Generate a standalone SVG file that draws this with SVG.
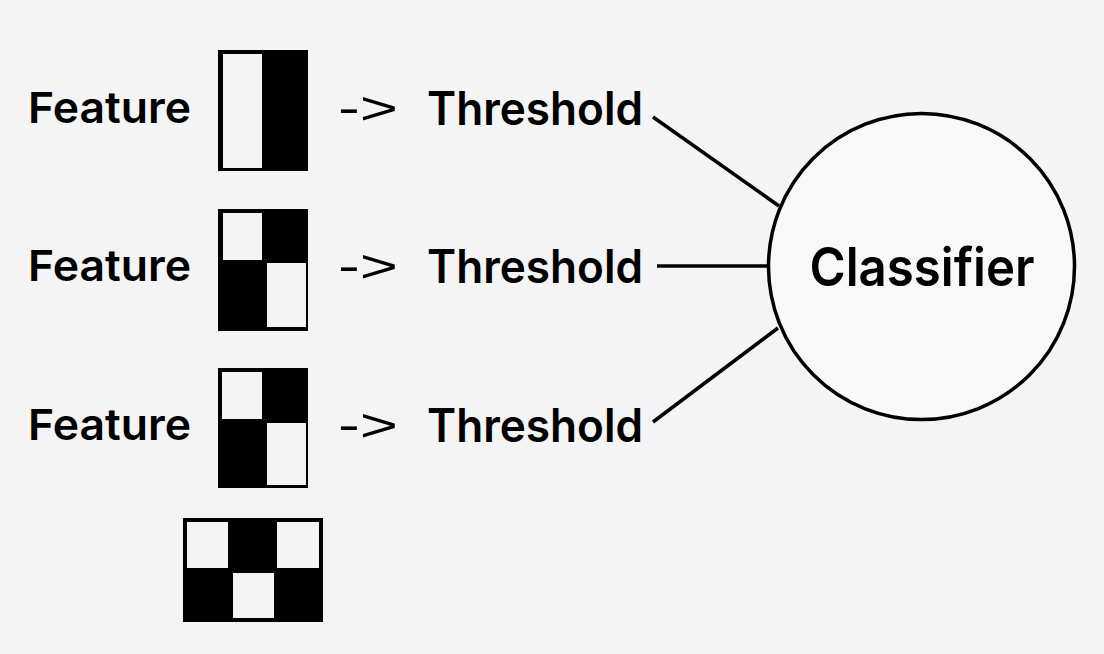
<svg xmlns="http://www.w3.org/2000/svg" width="1104" height="654" viewBox="0 0 1104 654">
<style>
.bg{fill:#f4f4f4}
.blk{fill:#000}
.cell{fill:#f4f4f4}
.lbl{font-family:Inter,"Liberation Sans",Arial,sans-serif;font-weight:560;font-size:43px;fill:#000}
.thr{font-family:Inter,"Liberation Sans",Arial,sans-serif;font-weight:560;font-size:46px;fill:#000}
.arr{font-family:"Liberation Sans",Arial,sans-serif;font-size:46px;fill:#000;font-feature-settings:"calt" 0,"liga" 0}
.cls{font-family:Inter,"Liberation Sans",Arial,sans-serif;font-weight:560;font-size:53px;fill:#000}
.conn{stroke:#000;stroke-width:3.5;fill:none;stroke-linecap:butt}
</style>
<rect class="bg" x="0" y="0" width="1104" height="654"/>
<g id="feature1">
<text class="lbl" x="28" y="123" textLength="163" lengthAdjust="spacingAndGlyphs">Feature</text>
<rect class="blk" x="218" y="50" width="90" height="121"/>
<rect class="cell" x="223" y="54" width="39" height="114"/>
</g>
<g id="feature2">
<text class="lbl" x="28" y="281" textLength="163" lengthAdjust="spacingAndGlyphs">Feature</text>
<rect class="blk" x="218" y="209" width="90" height="122"/>
<rect class="cell" x="223" y="213" width="39" height="47"/>
<rect class="cell" x="267" y="263" width="39" height="64"/>
</g>
<g id="feature3">
<text class="lbl" x="28" y="440" textLength="163" lengthAdjust="spacingAndGlyphs">Feature</text>
<rect class="blk" x="218" y="368" width="90" height="120"/>
<rect class="cell" x="222" y="372" width="40" height="47"/>
<rect class="cell" x="267" y="423" width="39" height="62"/>
</g>
<g id="feature4">
<rect class="blk" x="183" y="518" width="140" height="104"/>
<rect class="cell" x="187" y="522" width="41" height="46"/>
<rect class="cell" x="277" y="522" width="42" height="46"/>
<rect class="cell" x="233" y="573" width="41" height="45"/>
</g>
<g id="threshold1">
<text class="arr" x="338" y="124" textLength="60" lengthAdjust="spacingAndGlyphs">-&gt;</text>
<text class="thr" x="427" y="125" textLength="216" lengthAdjust="spacingAndGlyphs">Threshold</text>
</g>
<g id="threshold2">
<text class="arr" x="338" y="282" textLength="60" lengthAdjust="spacingAndGlyphs">-&gt;</text>
<text class="thr" x="427" y="283" textLength="216" lengthAdjust="spacingAndGlyphs">Threshold</text>
</g>
<g id="threshold3">
<text class="arr" x="338" y="441" textLength="60" lengthAdjust="spacingAndGlyphs">-&gt;</text>
<text class="thr" x="427" y="442" textLength="216" lengthAdjust="spacingAndGlyphs">Threshold</text>
</g>
<g id="classifier">
<circle cx="921.5" cy="266.5" r="153" fill="#f8f8f8" stroke="#000" stroke-width="3.5"/>
<text class="cls" x="922" y="286" text-anchor="middle" textLength="225" lengthAdjust="spacingAndGlyphs">Classifier</text>
</g>
<g id="connectors">
<line class="conn" x1="653" y1="117" x2="779" y2="206"/>
<line class="conn" x1="657" y1="266" x2="768" y2="266"/>
<line class="conn" x1="653" y1="422" x2="778" y2="328"/>
</g>
</svg>
